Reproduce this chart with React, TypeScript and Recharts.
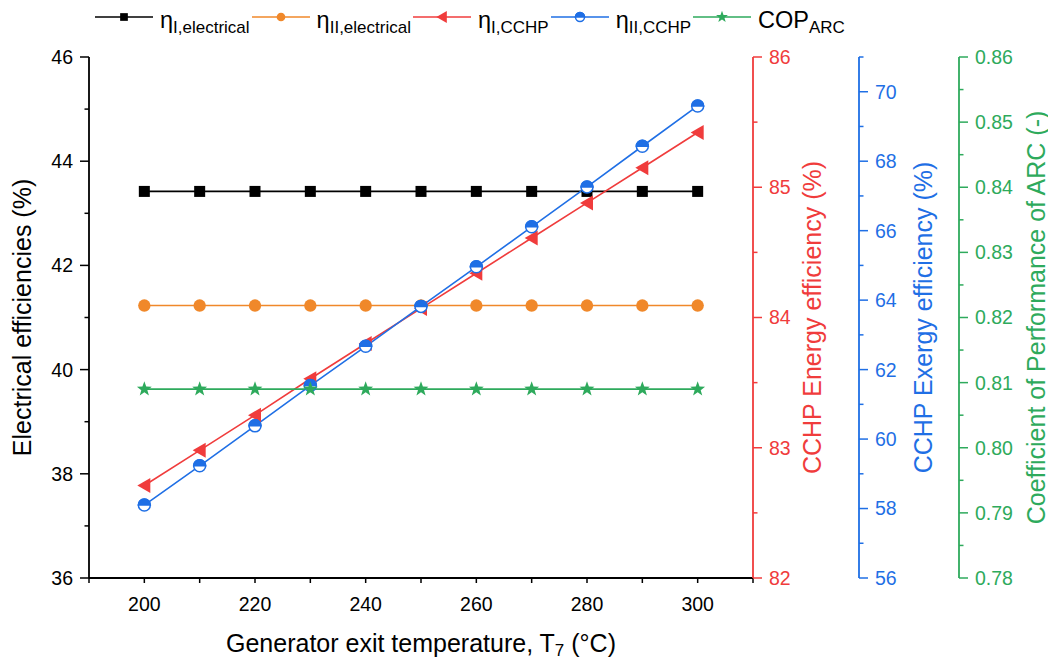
import React from 'react';
import { LineChart, Line, XAxis, YAxis, Legend } from 'recharts';

// ---------- data ----------
const temperatures = [200, 210, 220, 230, 240, 250, 260, 270, 280, 290, 300];
const etaIElectrical = [43.42, 43.42, 43.42, 43.42, 43.42, 43.42, 43.42, 43.42, 43.42, 43.42, 43.42];
const etaIIElectrical = [41.23, 41.23, 41.23, 41.23, 41.23, 41.23, 41.23, 41.23, 41.23, 41.23, 41.23];
const etaICCHP = [82.71, 82.98, 83.25, 83.53, 83.8, 84.07, 84.34, 84.61, 84.88, 85.15, 85.42];
const etaIICCHP = [58.1, 59.23, 60.38, 61.54, 62.67, 63.82, 64.96, 66.11, 67.26, 68.43, 69.59];
const copARC = [0.809, 0.809, 0.809, 0.809, 0.809, 0.809, 0.809, 0.809, 0.809, 0.809, 0.809];

// ---------- ticks ----------
const xTicks = [190, 200, 210, 220, 230, 240, 250, 260, 270, 280, 290, 300, 310];
const xTickLabels = [200, 220, 240, 260, 280, 300];
const leftTicks = [36, 37, 38, 39, 40, 41, 42, 43, 44, 45, 46];
const leftTickLabels = [36, 38, 40, 42, 44, 46];
const redTicks = [82, 82.5, 83, 83.5, 84, 84.5, 85, 85.5, 86];
const redTickLabels = [82, 83, 84, 85, 86];
const blueTicks = [56, 57, 58, 59, 60, 61, 62, 63, 64, 65, 66, 67, 68, 69, 70, 71];
const blueTickLabels = [56, 58, 60, 62, 64, 66, 68, 70];
const greenTicks = [0.78, 0.785, 0.79, 0.795, 0.8, 0.805, 0.81, 0.815, 0.82, 0.825, 0.83, 0.835, 0.84, 0.845, 0.85, 0.855, 0.86];
const greenTickLabels = [0.78, 0.79, 0.8, 0.81, 0.82, 0.83, 0.84, 0.85, 0.86];

const data = temperatures.map((t, i) => ({
  T: t,
  etaIEl: etaIElectrical[i],
  etaIIEl: etaIIElectrical[i],
  etaICCHP: etaICCHP[i],
  etaIICCHP: etaIICCHP[i],
  cop: copARC[i],
}));

// ---------- styles ----------
const FONT = '"Liberation Sans", Arial, Helvetica, sans-serif';
const BLACK = '#000000';
const ORANGE = '#F0882A';
const RED = '#F03C3C';
const BLUE = '#1F6FE5';
const GREEN = '#2EAA5C';
const TICK_FS = 19.5;
const TITLE_FS = 25;

// ---------- markers ----------
function Square({ cx, cy, s = 1, color = BLACK }: any) {
  const h = 5.5 * s;
  return <rect x={cx - h} y={cy - h} width={2 * h} height={2 * h} fill={color} />;
}
function Dot({ cx, cy, s = 1, color = ORANGE }: any) {
  return <circle cx={cx} cy={cy} r={6.2 * s} fill={color} />;
}
function TriLeft({ cx, cy, s = 1, color = RED }: any) {
  const pts = `${cx - 7 * s},${cy} ${cx + 6 * s},${cy - 7.5 * s} ${cx + 6 * s},${cy + 7.5 * s}`;
  return <polygon points={pts} fill={color} />;
}
function HalfCircle({ cx, cy, s = 1, color = BLUE }: any) {
  const r = 6 * s;
  return (
    <g>
      <circle cx={cx} cy={cy} r={r} fill="#fff" stroke={color} strokeWidth={1.5} />
      <path d={`M ${cx - r} ${cy} A ${r} ${r} 0 0 1 ${cx + r} ${cy} Z`} fill={color} stroke={color} strokeWidth={1.5} />
    </g>
  );
}
function Star({ cx, cy, s = 1, color = GREEN }: any) {
  const outer = 7.8 * s;
  const inner = 3.2 * s;
  const pts: string[] = [];
  for (let k = 0; k < 10; k++) {
    const r = k % 2 === 0 ? outer : inner;
    const a = -Math.PI / 2 + (k * Math.PI) / 5;
    pts.push(`${cx + r * Math.cos(a)},${cy + r * Math.sin(a)}`);
  }
  return <polygon points={pts.join(' ')} fill={color} />;
}

const dotFn = (Comp: any) => (props: any) => {
  const { cx, cy, index } = props;
  if (cx == null || cy == null) return <g key={`n${index}`} />;
  return <Comp key={`d${index}`} cx={cx} cy={cy} />;
};

// ---------- ticks ----------
const isIn = (list: number[], v: number) => list.some((l) => Math.abs(l - v) < 1e-9);

function makeTick(orient: 'left' | 'right' | 'bottom', color: string, labels: number[], fmt: (v: number) => string) {
  return (props: any) => {
    const { x, y, payload, index } = props;
    const v = payload.value;
    const major = isIn(labels, v);
    if (orient === 'bottom') {
      return (
        <g key={`t${index}`}>
          <line x1={x} x2={x} y1={y} y2={y + 5} stroke={color} strokeWidth={1.5} />
          {major && (
            <text x={x} y={y + 33.4} textAnchor="middle" fill={color} fontSize={TICK_FS} fontFamily={FONT}>
              {fmt(v)}
            </text>
          )}
        </g>
      );
    }
    const sign = orient === 'left' ? -1 : 1;
    const len = major ? 9 : 4.5;
    return (
      <g key={`t${index}`}>
        <line x1={x} x2={x + sign * len} y1={y} y2={y} stroke={color} strokeWidth={1.5} />
        {major && (
          <text
            x={x + sign * 16}
            y={y}
            dy="0.355em"
            textAnchor={orient === 'left' ? 'end' : 'start'}
            fill={color}
            fontSize={TICK_FS}
            fontFamily={FONT}
          >
            {fmt(v)}
          </text>
        )}
      </g>
    );
  };
}

const yTitle = (text: string, color: string, offsetFromAxis: number, isLeft: boolean) => (props: any) => {
  const vb = props.viewBox || {};
  const axisX = isLeft ? vb.x + vb.width : vb.x;
  const cx = axisX + offsetFromAxis;
  const cy = vb.y + vb.height / 2;
  return (
    <text
      x={cx}
      y={cy}
      dy="0.355em"
      textAnchor="middle"
      transform={`rotate(-90, ${cx}, ${cy})`}
      fill={color}
      fontSize={TITLE_FS}
      fontFamily={FONT}
    >
      {text}
    </text>
  );
};

const xTitle = (props: any) => {
  const vb = props.viewBox || {};
  const cx = vb.x + vb.width / 2;
  const by = vb.y + 73.5;
  return (
    <text x={cx} y={by} textAnchor="middle" fill={BLACK} fontSize={TITLE_FS} fontFamily={FONT}>
      <tspan>Generator exit temperature, T</tspan>
      <tspan fontSize={17} dy={4}>7</tspan>
      <tspan dy={-4}> (°C)</tspan>
    </text>
  );
};

// ---------- legend ----------
const legendItems = [
  { color: BLACK, Marker: Square, main: 'η', sub: 'I,electrical', s: 0.7 },
  { color: ORANGE, Marker: Dot, main: 'η', sub: 'II,electrical', s: 0.7 },
  { color: RED, Marker: TriLeft, main: 'η', sub: 'I,CCHP', s: 0.8 },
  { color: BLUE, Marker: HalfCircle, main: 'η', sub: 'II,CCHP', s: 0.75 },
  { color: GREEN, Marker: Star, main: 'COP', sub: 'ARC', s: 0.8 },
];

const LegendContent = () => (
  <div style={{ display: 'flex', alignItems: 'flex-start', height: 32, fontFamily: FONT, whiteSpace: 'nowrap' }}>
    {legendItems.map((it) => (
      <div key={it.sub + it.main} style={{ display: 'flex', alignItems: 'flex-start' }}>
        <svg width={58} height={24} style={{ display: 'block' }}>
          <line x1={0} x2={58} y1={9} y2={9} stroke={it.color} strokeWidth={1.6} />
          <it.Marker cx={29} cy={9} s={it.s} color={it.color} />
        </svg>
        <span style={{ marginLeft: 7, marginRight: 2, fontSize: 23.5, lineHeight: '24px', color: '#000' }}>
          {it.main}
          <span style={{ fontSize: 17, position: 'relative', top: 5 }}>{it.sub}</span>
        </span>
      </div>
    ))}
  </div>
);

export default function App() {
  return (
    <div style={{ width: 1048, height: 651 }}>
      <LineChart width={1048} height={651} data={data} margin={{ top: 49, right: 0, bottom: 0, left: 0 }}>
        <Legend
          layout="horizontal"
          verticalAlign="middle"
          align="center"
          content={<LegendContent />}
          wrapperStyle={{ top: 0, left: 87, width: 'auto', height: 32 }}
        />
        <XAxis
          dataKey="T"
          type="number"
          domain={[190, 310]}
          ticks={xTicks}
          interval={0}
          tickSize={0}
          tickMargin={0}
          tickLine={false}
          height={81}
          axisLine={{ stroke: BLACK, strokeWidth: 1.8 }}
          tick={makeTick('bottom', BLACK, xTickLabels, (v) => String(v))}
          label={xTitle}
          allowDataOverflow
        />
        <YAxis
          yAxisId="a_left"
          orientation="left"
          type="number"
          domain={[36, 46]}
          ticks={leftTicks}
          interval={0}
          width={81}
          tickSize={0}
          tickMargin={0}
          tickLine={false}
          axisLine={{ stroke: BLACK, strokeWidth: 1.8 }}
          tick={makeTick('left', BLACK, leftTickLabels, (v) => String(v))}
          label={yTitle('Electrical efficiencies (%)', BLACK, -66.5, true)}
          allowDataOverflow
        />
        <YAxis
          yAxisId="r1_energy"
          orientation="right"
          type="number"
          domain={[82, 86]}
          ticks={redTicks}
          interval={0}
          width={106}
          tickSize={0}
          tickMargin={0}
          tickLine={false}
          axisLine={{ stroke: RED, strokeWidth: 1.8 }}
          tick={makeTick('right', RED, redTickLabels, (v) => String(v))}
          label={yTitle('CCHP Energy efficiency (%)', RED, 59, false)}
          allowDataOverflow
        />
        <YAxis
          yAxisId="r2_exergy"
          orientation="right"
          type="number"
          domain={[56, 71]}
          ticks={blueTicks}
          interval={0}
          width={100}
          tickSize={0}
          tickMargin={0}
          tickLine={false}
          axisLine={{ stroke: BLUE, strokeWidth: 1.8 }}
          tick={makeTick('right', BLUE, blueTickLabels, (v) => String(v))}
          label={yTitle('CCHP Exergy efficiency (%)', BLUE, 64.5, false)}
          allowDataOverflow
        />
        <YAxis
          yAxisId="r3_cop"
          orientation="right"
          type="number"
          domain={[0.78, 0.86]}
          ticks={greenTicks}
          interval={0}
          width={97}
          tickSize={0}
          tickMargin={0}
          tickLine={false}
          axisLine={{ stroke: GREEN, strokeWidth: 1.8 }}
          tick={makeTick('right', GREEN, greenTickLabels, (v) => v.toFixed(2))}
          label={yTitle('Coefficient of Performance of ARC (-)', GREEN, 77, false)}
          allowDataOverflow
        />
        <Line yAxisId="a_left" dataKey="etaIEl" stroke={BLACK} strokeWidth={1.6} dot={dotFn(Square)} isAnimationActive={false} />
        <Line yAxisId="a_left" dataKey="etaIIEl" stroke={ORANGE} strokeWidth={1.6} dot={dotFn(Dot)} isAnimationActive={false} />
        <Line yAxisId="r1_energy" dataKey="etaICCHP" stroke={RED} strokeWidth={1.6} dot={dotFn(TriLeft)} isAnimationActive={false} />
        <Line yAxisId="r2_exergy" dataKey="etaIICCHP" stroke={BLUE} strokeWidth={1.6} dot={dotFn(HalfCircle)} isAnimationActive={false} />
        <Line yAxisId="r3_cop" dataKey="cop" stroke={GREEN} strokeWidth={1.6} dot={dotFn(Star)} isAnimationActive={false} />
      </LineChart>
    </div>
  );
}
